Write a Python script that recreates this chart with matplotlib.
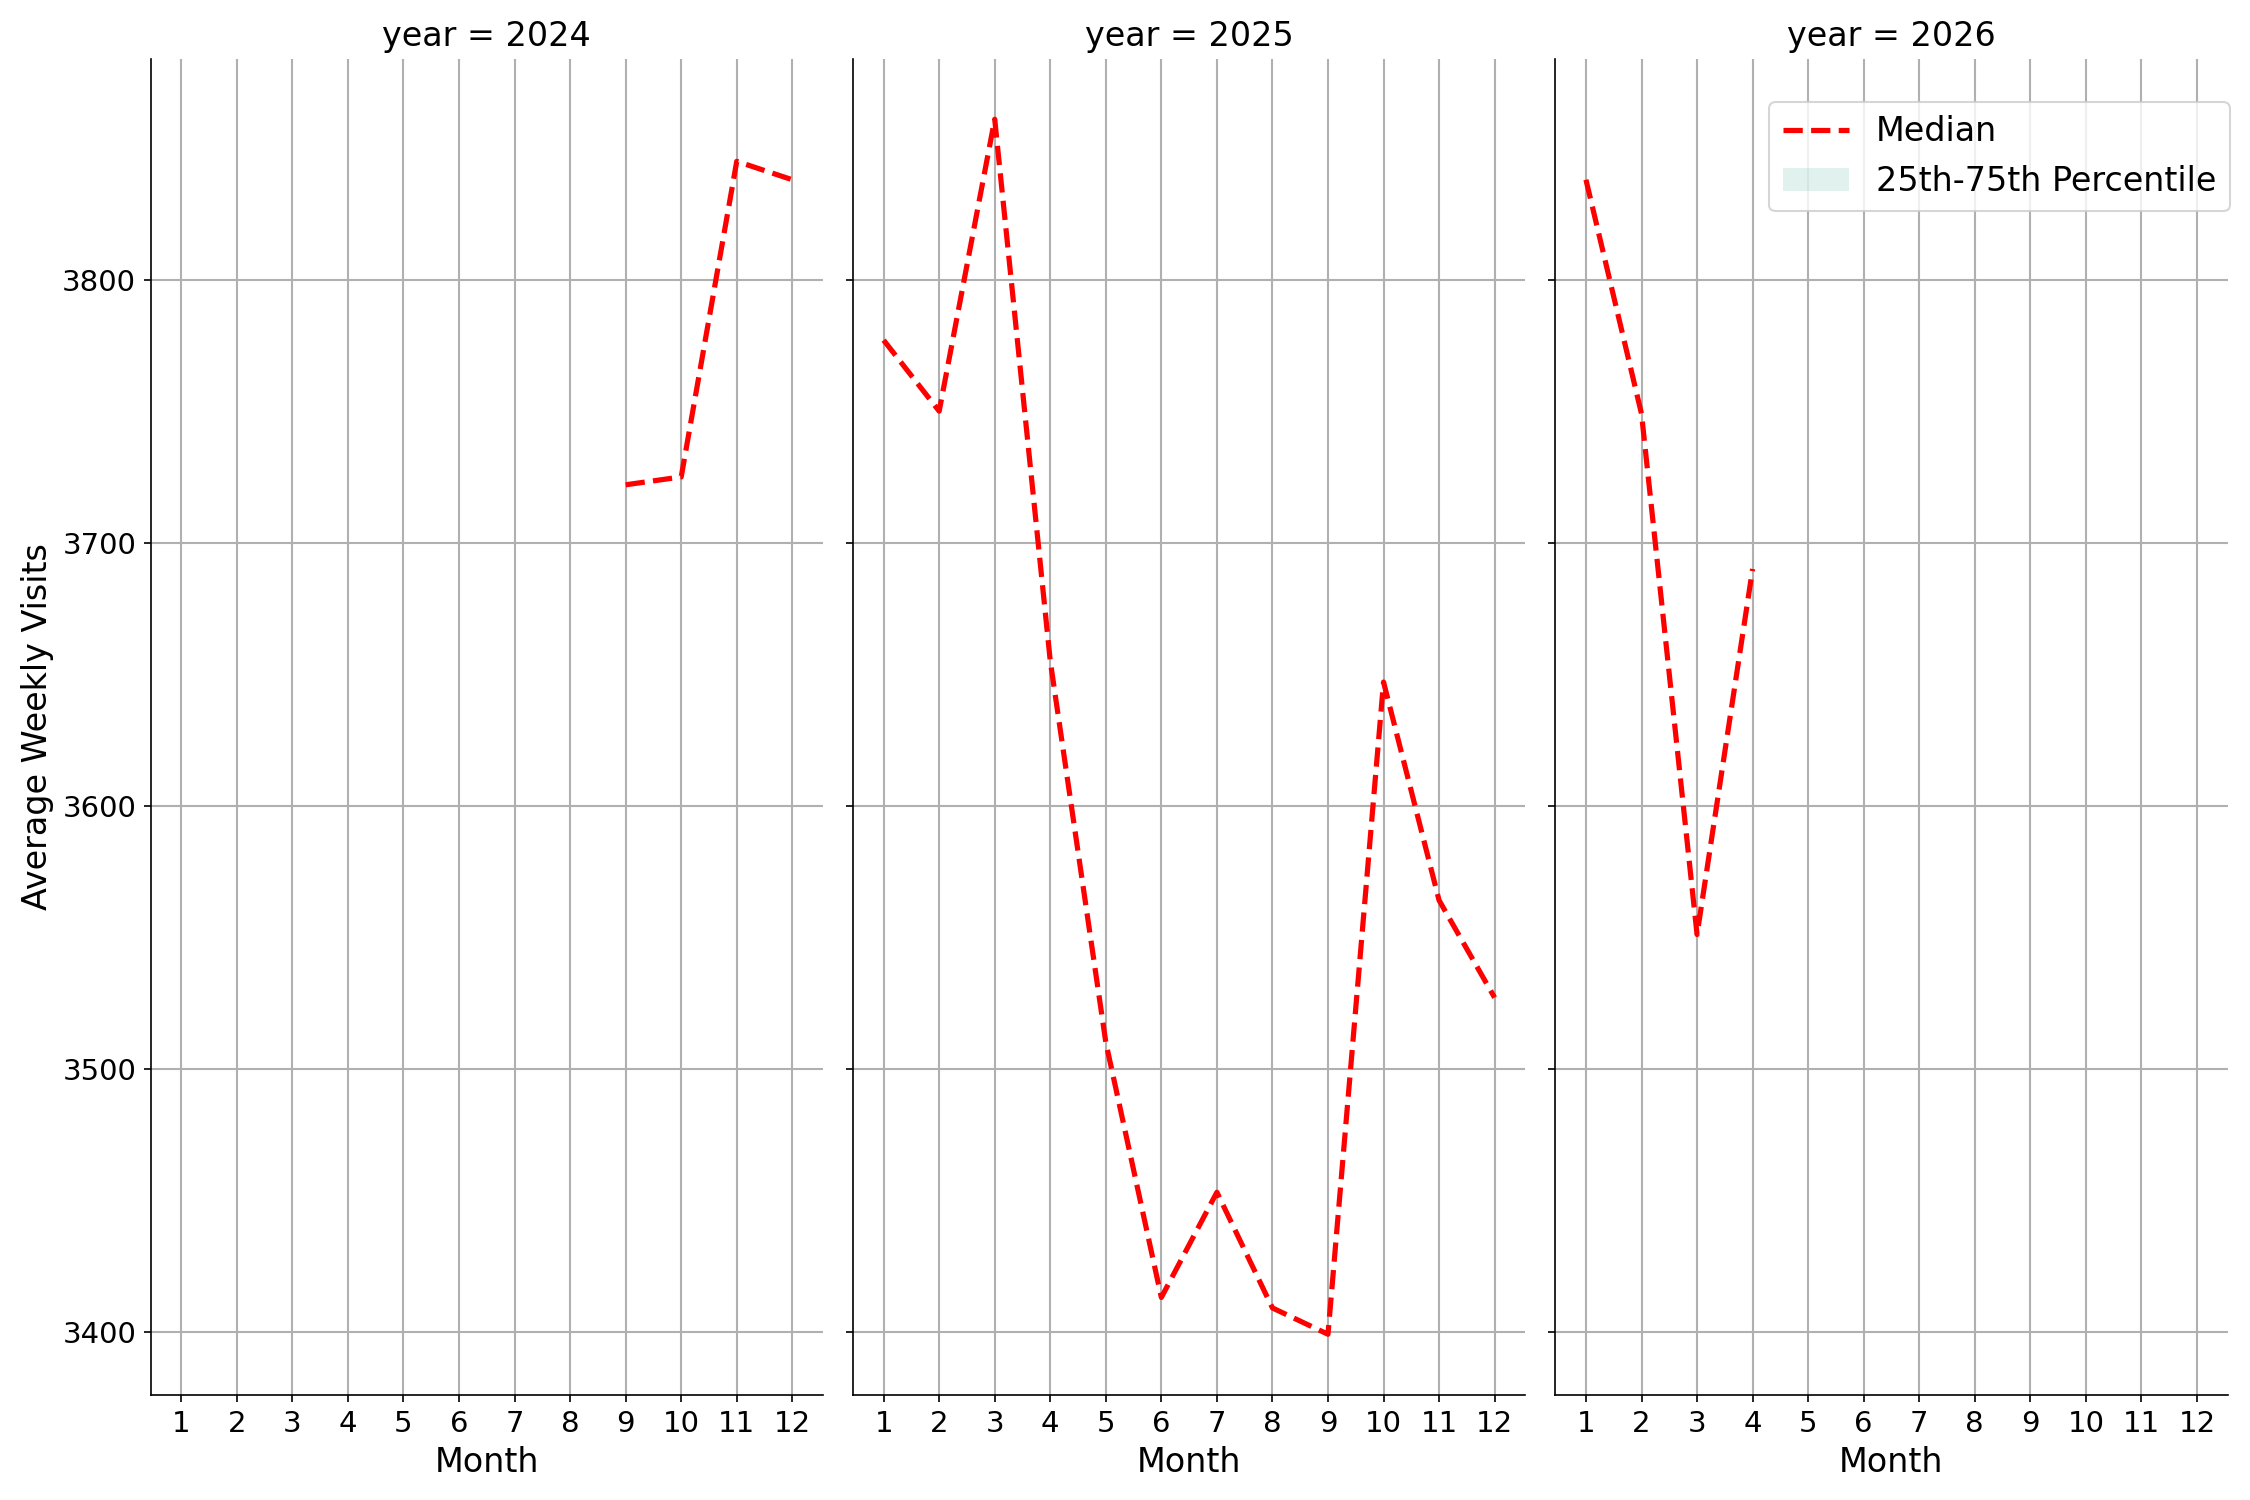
import numpy as np
import matplotlib
matplotlib.use('Agg')
import matplotlib.pyplot as plt
from matplotlib.patches import Patch

# Monthly median of average weekly visits
months = np.arange(1, 13)
years = [2024, 2025, 2026]
median_2024 = [np.nan] * 8 + [3722, 3725, 3845, 3838]
median_2025 = [3777, 3750, 3861, 3655, 3510, 3413, 3453, 3409, 3399, 3647, 3564, 3527]
median_2026 = [3838, 3749, 3551, 3690] + [np.nan] * 8
medians = {2024: median_2024, 2025: median_2025, 2026: median_2026}

fig, axes = plt.subplots(1, 3, figsize=(15, 10), dpi=150, sharey=True)
fig.subplots_adjust(left=0.067, right=0.99, top=0.961, bottom=0.07, wspace=0.045)

for ax, year in zip(axes, years):
    ax.plot(months, medians[year], color='red', linestyle='--', linewidth=2.5)
    ax.set_title(f'year = {year}', fontsize=16)
    ax.set_xlabel('Month', fontsize=16)
    ax.set_xticks(months)
    ax.tick_params(labelsize=14)
    ax.grid(True, color='#b0b0b0', linewidth=1)
    ax.spines['top'].set_visible(False)
    ax.spines['right'].set_visible(False)
    ax.set_xlim(0.45, 12.55)

axes[0].set_ylabel('Average Weekly Visits', fontsize=16)
axes[0].set_yticks([3400, 3500, 3600, 3700, 3800])

handles = [plt.Line2D([], [], color='red', linestyle='--', linewidth=2.5),
           Patch(facecolor='#69c2aa', alpha=0.2, edgecolor='none')]
axes[2].legend(handles, ['Median', '25th-75th Percentile'], loc='upper right',
               fontsize=16, bbox_to_anchor=(1.028, 0.98))

fig.savefig('out.png')
